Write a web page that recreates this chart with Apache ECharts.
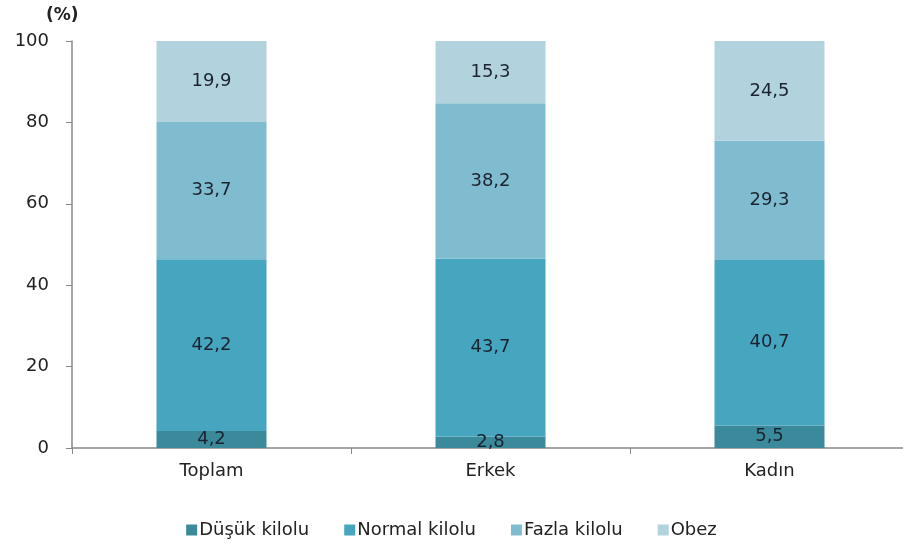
<!DOCTYPE html>
<html>
<head>
<meta charset="utf-8">
<script src="https://cdn.jsdelivr.net/npm/echarts@6/dist/echarts.min.js"></script>
<style>
html,body{margin:0;padding:0;background:#fff;}
#chart{width:903px;height:551px;}
</style>
</head>
<body>
<div id="chart"></div>
<script>
// Body-mass categories by group (%)
const categories = ['Toplam', 'Erkek', 'Kadın'];
const seriesNames = ['Düşük kilolu', 'Normal kilolu', 'Fazla kilolu', 'Obez'];
const dusuk = [4.2, 2.8, 5.5];
const normal = [42.2, 43.7, 40.7];
const fazla = [33.7, 38.2, 29.3];
const obez = [19.9, 15.3, 24.5];
const yTicks = [0, 20, 40, 60, 80, 100];

const colors = ['#3a8a9c', '#46a5bf', '#80bcd0', '#b2d2de'];
const values = [dusuk, normal, fazla, obez];
const font = 'DejaVu Sans, sans-serif';

const chart = echarts.init(document.getElementById('chart'));
chart.setOption({
  animation: false,
  // the category axis runs past the right edge of the canvas
  grid: { left: 72, top: 41, width: 837, height: 407, outerBoundsMode: 'none' },
  graphic: [{
    type: 'text', left: 46, top: 7,
    style: { text: '(%)', font: 'bold 17px ' + font, fill: '#222' }
  }],
  legend: {
    bottom: 7, left: 'center',
    itemWidth: 11, itemHeight: 11, itemGap: 35,
    icon: 'rect',
    textStyle: { fontSize: 18, color: '#222', fontFamily: font, padding: [0, 0, 0, -3] },
    data: seriesNames
  },
  xAxis: {
    type: 'category', data: categories,
    axisLine: { lineStyle: { color: '#888', width: 1.5 } },
    axisTick: { show: true, length: 6, lineStyle: { color: '#888' } },
    axisLabel: { fontSize: 18, color: '#222', fontFamily: font, margin: 14 }
  },
  yAxis: {
    type: 'value', min: yTicks[0], max: yTicks[yTicks.length - 1], interval: 20,
    axisLine: { show: true, lineStyle: { color: '#888', width: 1.5 } },
    axisTick: { show: true, length: 6, lineStyle: { color: '#888' } },
    splitLine: { show: false },
    axisLabel: { fontSize: 18, color: '#222', fontFamily: font, margin: 23 }
  },
  series: seriesNames.map((name, i) => ({
    name: name, type: 'bar', stack: 'total', barWidth: 110,
    data: values[i],
    itemStyle: { color: colors[i] },
    label: {
      show: true, position: 'inside', fontSize: 18, color: '#1c2330', fontFamily: font,
      formatter: p => String(p.value).replace('.', ',')
    }
  }))
});
</script>
</body>
</html>
